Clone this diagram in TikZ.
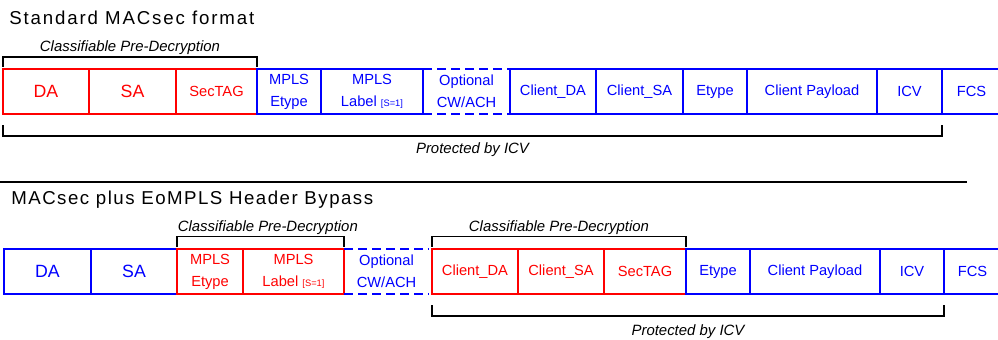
\documentclass[tikz,border=0pt]{standalone}
\usepackage{fontspec}
\setmainfont{Liberation Sans}
\newfontfamily\titlefont[LetterSpace=8]{Liberation Sans}
\tikzset{
  field/.style={draw,line width=0.8pt,inner sep=0pt,outer sep=0pt,minimum height=33.75pt,align=center,font=\fontsize{11}{16.5}\selectfont},
  bigtxt/.style={font=\fontsize{13.3}{16}\selectfont},
  regtxt/.style={},
  opt/.style={line width=1.6pt,dash pattern=on 7pt off 3.5pt},
  optgap/.style={draw=none},
  brk/.style={line width=1.1pt},
  lbl/.style={inner sep=0pt,font=\itshape\fontsize{11.2}{13}\selectfont},
  ttl/.style={inner sep=0pt,anchor=base west,font=\titlefont\fontsize{14}{16}\selectfont}
}
\begin{document}
\begin{tikzpicture}[x=0.75pt,y=-0.75pt]
\useasboundingbox (0,0) rectangle (998,339);
\node[ttl] (title1) at (9,24.3) {\addfontfeature{LetterSpace=10}Standard MACsec format};
\foreach \n/\l/\r/\c/\s/\t in {1/3/89/red/bigtxt/DA,2/89/176/red/bigtxt/SA,3/176/257/red/regtxt/SecTAG,
    4/257/321/blue/regtxt/{MPLS\\Etype},5/321/423/blue/regtxt/{MPLS\\Label {\fontsize{7}{8}\selectfont[S=1]}},
    6/423/510/blue/opt/{Optional\\CW/ACH},7/510/596/blue/regtxt/Client\_DA,8/596/683/blue/regtxt/Client\_SA,
    9/683/747/blue/regtxt/Etype,10/747/877/blue/regtxt/Client Payload,11/877/942/blue/regtxt/ICV,12/942/1001/blue/regtxt/FCS}
    \node[field,draw=\c,text=\c,\s,minimum width={(\r-\l)*0.75pt}] (t\n) at ({(\l+\r)/2},91.5) {\t};
\draw[brk] ([yshift=1.5pt]t1.north west) -- ++(0,7.5pt) -| ([yshift=1.5pt]t3.north east);
\path (t1.north west) -- (t3.north east) node[midway,anchor=base,yshift=13.5pt,lbl] (cls1) {Classifiable Pre-Decryption};
\draw[brk] ([yshift=-8.25pt]t1.south west) -- ++(0,-8.25pt) -| ([yshift=-8.25pt]t11.south east);
\path (t1.south west) -- (t11.south east) node[midway,anchor=base,yshift=-29.5pt,lbl] (prot1) {Protected by ICV};
\coordinate (sepL) at (0,182);
\coordinate (sepR) at (967,182);
\draw[line width=2.2pt] (sepL) -- (sepR);
\node[ttl] (title2) at (11,204.3) {MACsec plus EoMPLS Header Bypass};
\foreach \n/\l/\r/\c/\s/\t in {1/4/91/blue/bigtxt/DA,2/91/177/blue/bigtxt/SA,3/177/243/red/regtxt/{MPLS\\Etype},
    4/243/344/red/regtxt/{MPLS\\Label {\fontsize{7}{8}\selectfont[S=1]}},5/344/429/blue/optgap/{Optional\\CW/ACH},
    6/432/518/red/regtxt/Client\_DA,7/518/604/red/regtxt/Client\_SA,8/604/686/red/regtxt/SecTAG,
    9/686/750/blue/regtxt/Etype,10/750/880/blue/regtxt/Client Payload,11/880/944/blue/regtxt/ICV,12/944/1001/blue/regtxt/FCS}
    \node[field,draw=\c,text=\c,\s,minimum width={(\r-\l)*0.75pt}] (b\n) at ({(\l+\r)/2},271.5) {\t};
\draw[blue,opt] (b5.north west) -- (b5.north east) (b5.south west) -- (b5.south east);
\draw[brk] ([yshift=1.5pt]b3.north west) -- ++(0,8pt) -| ([yshift=1.5pt]b4.north east);
\path (b3.north west) -- (b4.north east) node[midway,anchor=base,yshift=13.5pt,xshift=5.5pt,lbl] (cls2) {Classifiable Pre-Decryption};
\draw[brk] ([yshift=1.5pt]b6.north west) -- ++(0,8pt) -| ([yshift=1.5pt]b8.north east);
\path (b6.north west) -- (b8.north east) node[midway,anchor=base,yshift=13.5pt,lbl] (cls3) {Classifiable Pre-Decryption};
\draw[brk] ([yshift=-8.25pt]b6.south west) -- ++(0,-8.25pt) -| ([yshift=-8.25pt]b11.south east);
\path (b6.south west) -- (b11.south east) node[midway,anchor=base,yshift=-31pt,lbl] (prot2) {Protected by ICV};
\end{tikzpicture}
\end{document}
